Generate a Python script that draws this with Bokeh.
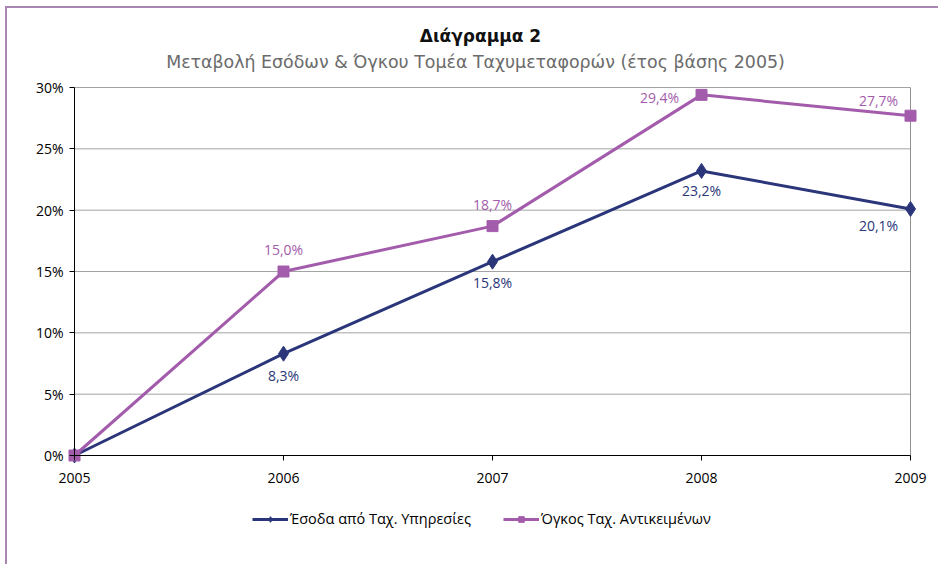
from bokeh.plotting import figure
from bokeh.layouts import column
from bokeh.models import (ColumnDataSource, Label, Legend, LegendItem, NumeralTickFormatter,
                          FixedTicker, LabelSet)
from bokeh.core.properties import value
from bokeh.embed import file_html
from bokeh.resources import INLINE

years = [2005, 2006, 2007, 2008, 2009]
revenue = [0.0, 8.3, 15.8, 23.2, 20.1]
volume = [0.0, 15.0, 18.7, 29.4, 27.7]
y_ticks = [0.0, 0.05, 0.10, 0.15, 0.20, 0.25, 0.30]
series_names = ["Έσοδα από Ταχ. Υπηρεσίες", "Όγκος Ταχ. Αντικειμένων"]
title_text = "Διάγραμμα 2"
subtitle_text = "Μεταβολή Εσόδων & Όγκου Τομέα Ταχυμεταφορών (έτος βάσης 2005)"

NAVY = "#2a3679"
PURPLE = "#a35cab"
FONT = "Open Sans"
TFONT = "DejaVu Sans"

def fmt(v):
    return f"{v:.1f}".replace(".", ",") + "%"

rev_src = ColumnDataSource(dict(
    x=years, y=[v / 100 for v in revenue],
    lab=["" if i == 0 else fmt(v) for i, v in enumerate(revenue)],
    xo=[0, 0, 0, 0, -32], yo=[0, -22, -21, -20, -17]))
vol_src = ColumnDataSource(dict(
    x=years, y=[v / 100 for v in volume],
    lab=["" if i == 0 else fmt(v) for i, v in enumerate(volume)],
    xo=[0, 0, 0, -42, -32], yo=[0, 22, 22, -3, 15]))

# layout geometry (pixels): the frame covers the whole figure so that
# titles, tick labels and the legend (all drawn inside it) are not clipped.
W, H = 931, 556
plot_left, plot_right = 67, 903      # axis area inside the figure
plot_top, plot_bottom = 79, 447
xs = (years[-1] - years[0]) / (plot_right - plot_left)
ys = (y_ticks[-1] - y_ticks[0]) / (plot_bottom - plot_top)
x_range = (years[0] - plot_left * xs, years[-1] + (W - plot_right) * xs)
y_range = (y_ticks[0] - (H - plot_bottom) * ys, y_ticks[-1] + plot_top * ys)

p = figure(width=W, height=H, output_backend="svg", toolbar_location=None,
           x_range=x_range, y_range=y_range, min_border=0)

p.xaxis.ticker = FixedTicker(ticks=years)
p.yaxis.ticker = FixedTicker(ticks=y_ticks)
p.yaxis.formatter = NumeralTickFormatter(format="0%")
p.xaxis.fixed_location = y_ticks[0]
p.yaxis.fixed_location = years[0]
p.xaxis.bounds = (years[0], years[-1])
p.yaxis.bounds = (y_ticks[0], y_ticks[-1])
for ax in (p.xaxis, p.yaxis):
    ax.axis_line_color = "#000000"
    ax.axis_line_width = 1
    ax.major_tick_line_color = "#000000"
    ax.major_tick_in = 0
    ax.major_tick_out = 5
    ax.minor_tick_line_color = None
    ax.major_label_text_font = FONT
    ax.major_label_text_font_size = "14px"
    ax.major_label_text_color = "#000000"
p.xaxis.major_label_standoff = 12
p.yaxis.major_label_standoff = 6

p.grid.grid_line_color = None
p.outline_line_color = None
p.background_fill_color = "white"
p.border_fill_color = "white"

# horizontal gridlines and right frame edge
gl = [t for t in y_ticks if t > 0]
p.segment(x0=[years[0]] * len(gl), x1=[years[-1]] * len(gl), y0=gl, y1=gl,
          line_color="#a3a3a3", line_width=1, level="underlay")
p.segment(x0=[years[-1]], x1=[years[-1]], y0=[y_ticks[0]], y1=[y_ticks[-1]],
          line_color="#8f8f8f", line_width=1, level="underlay")

r1l = p.line("x", "y", source=rev_src, line_color=NAVY, line_width=3)
r1m = p.scatter("x", "y", source=rev_src, marker="diamond", size=15, fill_color=NAVY, line_color=NAVY)
r2l = p.line("x", "y", source=vol_src, line_color=PURPLE, line_width=3)
r2m = p.scatter("x", "y", source=vol_src, marker="square", size=11, fill_color=PURPLE, line_color=PURPLE)

p.add_layout(LabelSet(x="x", y="y", text="lab", source=rev_src, x_offset="xo", y_offset="yo",
                      text_align="center", text_baseline="middle", text_font=value(FONT),
                      text_font_size="14px", text_color=NAVY))
p.add_layout(LabelSet(x="x", y="y", text="lab", source=vol_src, x_offset="xo", y_offset="yo",
                      text_align="center", text_baseline="middle", text_font=value(FONT),
                      text_font_size="14px", text_color=PURPLE))

# titles above the plot area
xc = (years[0] + years[-1]) / 2
p.add_layout(Label(x=xc, y=y_ticks[-1], x_offset=-12, y_offset=52, text=title_text,
                   text_align="center", text_baseline="middle", text_font=TFONT,
                   text_font_size="17px", text_font_style="bold", text_color="#111111"))
p.add_layout(Label(x=xc, y=y_ticks[-1], x_offset=-17, y_offset=26, text=subtitle_text,
                   text_align="center", text_baseline="middle", text_font=TFONT,
                   text_font_size="17.4px", text_color="#6b6b6b"))

legend = Legend(items=[LegendItem(label=series_names[0], renderers=[r1l, r1m]),
                       LegendItem(label=series_names[1], renderers=[r2l, r2m])],
                orientation="horizontal", location=(245, 36),
                label_text_font=FONT, label_text_font_size="14.5px", label_text_color="#000000",
                glyph_width=36, glyph_height=14, spacing=32, label_standoff=2,
                border_line_color=None, background_fill_alpha=0, margin=0, padding=4)
p.add_layout(legend, "center")

layout = column(p, spacing=0,
                styles={"border-top": "2px solid #a986b2", "border-left": "2px solid #a986b2",
                        "margin-top": "6px", "margin-left": "5px"})

open("out.html", "w").write(file_html(layout, INLINE))
